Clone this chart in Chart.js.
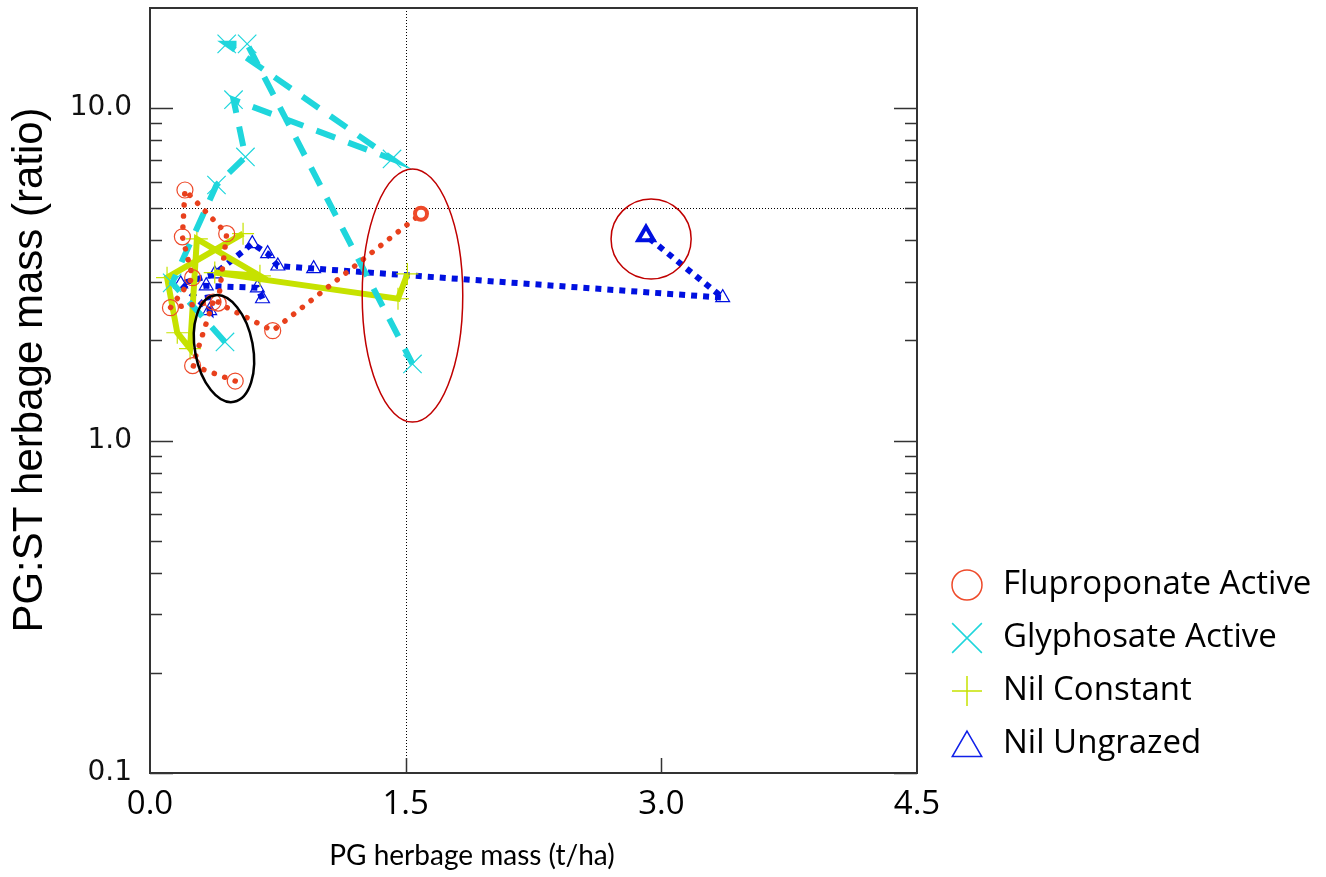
<!DOCTYPE html>
<html>
<head>
<meta charset="utf-8">
<script src="https://cdn.jsdelivr.net/npm/chart.js@4.4.0/dist/chart.umd.min.js"></script>
<style>
html, body { margin: 0; padding: 0; background: #fff; }
</style>
</head>
<body>
<canvas id="myChart" width="1326" height="877"></canvas>
<script>
// series names
var Series = ['Fluproponate Active', 'Glyphosate Active', 'Nil Constant', 'Nil Ungrazed'];

// Fluproponate Active (t/ha , ratio)
var fluX = [0.50, 0.25, 0.37, 0.12, 0.25, 0.19, 0.205, 0.45, 0.40, 0.72, 1.59];
var fluY = [1.51, 1.68, 2.61, 2.51, 3.09, 4.10, 5.67, 4.19, 2.59, 2.14, 4.81];

// Glyphosate Active
var glyX = [0.44, 0.13, 0.39, 0.56, 0.49, 1.42, 0.45, 0.57, 1.54];
var glyY = [1.98, 2.98, 5.87, 7.13, 10.6, 7.03, 15.6, 15.6, 1.70];

// Nil Constant
var ncX = [0.546, 0.10, 0.16, 0.235, 0.275, 0.645, 0.38, 1.455, 1.51];
var ncY = [4.19, 3.09, 2.11, 1.89, 4.04, 3.13, 3.20, 2.67, 3.17];

// Nil Ungrazed
var nuX = [0.66, 0.63, 0.33, 0.35, 0.18, 0.38, 0.60, 0.69, 0.75, 0.96, 3.36, 2.91];
var nuY = [2.67, 2.88, 2.92, 2.46, 2.96, 3.17, 3.91, 3.65, 3.35, 3.29, 2.69, 4.13];

// axis ticks
var xTicks = [0.0, 1.5, 3.0, 4.5];
var yTicks = [0.1, 1, 10];
var yMinor = [0.2, 0.3, 0.4, 0.5, 0.6, 0.7, 0.8, 0.9, 2, 3, 4, 5, 6, 7, 8, 9];

// reference lines (x = 1.5 , y = 5)
var refX = 1.5;
var refY = 5;

// circled groups, in data units: centre x, centre y, half width (x units), top y, tilt
var Marcas = [
    { cx: 1.54, cy: 2.73, hx: 0.295, top: 6.56, rot: 0, color: '#c00000', w: 1.5 },
    { cx: 2.94, cy: 4.04, hx: 0.235, top: 5.33, rot: 0, color: '#c00000', w: 1.5 },
    { cx: 0.434, cy: 1.89, hx: 0.17, top: 2.75, rot: -0.185, color: '#000000', w: 2.5 }
];

var TOPE = 8; // top edge of the plot box

function Puntos(xs, ys)
{
    var out = [];
    for (var i = 0; i < xs.length; i++) out.push({ x: xs[i], y: ys[i] });
    return out;
}

function Lista(n, v, last)
{
    var a = [];
    for (var i = 0; i < n; i++) a.push(v);
    if (last !== undefined) a[n - 1] = last;
    return a;
}

function SinRelleno(s)
{
    s.paddingTop = 0;
    s.paddingBottom = 0;
    s.paddingLeft = 0;
    s.paddingRight = 0;
}

var extras = {
    id: 'extras',
    afterLayout: function(chart)
    {
        // pull the plot box up to the top edge
        var a = chart.chartArea, ys = chart.scales.y;
        var d = a.top - TOPE;
        if (d !== 0)
        {
            a.top -= d;
            a.height += d;
            ys.top -= d;
            ys.height += d;
            ys.configure();
        }
    },
    beforeDatasetsDraw: function(chart)
    {
        var ctx = chart.ctx, a = chart.chartArea;
        var xs = chart.scales.x, ys = chart.scales.y;
        ctx.save();
        ctx.strokeStyle = '#000';
        ctx.lineWidth = 1;
        ctx.setLineDash([1, 2]);
        var px = Math.round(xs.getPixelForValue(refX)) + 0.5;
        ctx.beginPath(); ctx.moveTo(px, a.top); ctx.lineTo(px, a.bottom); ctx.stroke();
        var py = Math.round(ys.getPixelForValue(refY)) + 0.5;
        ctx.beginPath(); ctx.moveTo(a.left, py); ctx.lineTo(a.right, py); ctx.stroke();
        ctx.restore();
    },
    afterDatasetsDraw: function(chart)
    {
        var ctx = chart.ctx;
        var xs = chart.scales.x, ys = chart.scales.y;
        ctx.save();
        Marcas.forEach(function(m)
        {
            var cx = xs.getPixelForValue(m.cx), cy = ys.getPixelForValue(m.cy);
            var rx = xs.getPixelForValue(m.cx + m.hx) - cx;
            var ry = cy - ys.getPixelForValue(m.top);
            ctx.strokeStyle = m.color;
            ctx.lineWidth = m.w;
            ctx.beginPath();
            ctx.ellipse(cx, cy, rx, ry, m.rot, 0, Math.PI * 2);
            ctx.stroke();
        });
        ctx.restore();
    },
    afterDraw: function(chart)
    {
        var ctx = chart.ctx, a = chart.chartArea;
        var xs = chart.scales.x, ys = chart.scales.y;
        ctx.save();
        // frame
        ctx.strokeStyle = '#333';
        ctx.lineWidth = 2;
        ctx.strokeRect(a.left, a.top, a.right - a.left, a.bottom - a.top);
        // inward ticks
        ctx.lineWidth = 1.5;
        ctx.beginPath();
        yTicks.concat(yMinor).forEach(function(v)
        {
            var y = Math.round(ys.getPixelForValue(v)) + 0.5;
            var len = yTicks.indexOf(v) >= 0 ? 23 : 12;
            ctx.moveTo(a.left, y); ctx.lineTo(a.left + len, y);
            ctx.moveTo(a.right, y); ctx.lineTo(a.right - len, y);
        });
        xTicks.slice(1, -1).forEach(function(v)
        {
            var x = Math.round(xs.getPixelForValue(v)) + 0.5;
            ctx.moveTo(x, a.bottom); ctx.lineTo(x, a.bottom - 15);
        });
        ctx.stroke();

        // axis titles
        ctx.fillStyle = '#000';
        ctx.textAlign = 'center';
        ctx.textBaseline = 'middle';
        ctx.font = '28px Lato';
        ctx.fillText('PG herbage mass (t/ha)', 472, 856);
        ctx.save();
        ctx.translate(30, 370);
        ctx.rotate(-Math.PI / 2);
        ctx.font = '42px "Liberation Sans"';
        ctx.fillText('PG:ST herbage mass (ratio)', 0, 0);
        ctx.restore();

        // legend
        var lx = 967, ly = 585, paso = 53;
        var radios = [15, 21, 15, 17];
        chart.data.datasets.forEach(function(ds, i)
        {
            var y = ly + i * paso;
            ctx.strokeStyle = ds.legendColor;
            ctx.fillStyle = 'rgba(0,0,0,0)';
            ctx.lineWidth = 1.5;
            Chart.helpers.drawPoint(ctx, { pointStyle: ds.pointStyle, radius: radios[i], rotation: 0, borderWidth: 1.5 }, lx, ds.pointStyle === 'triangle' ? y + 4 : y);
            ctx.fillStyle = '#000';
            ctx.textAlign = 'left';
            ctx.font = '33px "Open Sans"';
            ctx.fillText(ds.label, 1003, y);
        });
        ctx.restore();
    }
};

function Graficas()
{
    var ctx = document.getElementById('myChart').getContext('2d');
    var chart = new Chart(ctx, {
        type: 'scatter',
        data: {
            datasets: [
                {
                    label: Series[0],
                    data: Puntos(fluX, fluY),
                    showLine: true,
                    borderColor: '#e8401c',
                    legendColor: '#ee4a2a',
                    borderWidth: 5.5,
                    borderDash: [0.1, 11],
                    borderCapStyle: 'round',
                    pointStyle: 'circle',
                    pointRadius: Lista(fluX.length, 8, 6),
                    pointBorderWidth: Lista(fluX.length, 1.2, 4),
                    pointBorderColor: '#ee4a2a',
                    pointBackgroundColor: 'rgba(0,0,0,0)'
                },
                {
                    label: Series[1],
                    data: Puntos(glyX, glyY),
                    showLine: true,
                    borderColor: '#1fd6dc',
                    legendColor: '#1fd6dc',
                    borderWidth: 6,
                    borderDash: [20, 14],
                    pointStyle: 'crossRot',
                    pointRadius: 13,
                    pointBorderWidth: 1.2,
                    pointBorderColor: '#1fd6dc',
                    pointBackgroundColor: 'rgba(0,0,0,0)'
                },
                {
                    label: Series[2],
                    data: Puntos(ncX, ncY),
                    showLine: true,
                    borderColor: '#c6e200',
                    legendColor: '#c6e200',
                    borderWidth: 6,
                    pointStyle: 'cross',
                    pointRadius: 11,
                    pointBorderWidth: 1.2,
                    pointBorderColor: '#c6e200',
                    pointBackgroundColor: 'rgba(0,0,0,0)'
                },
                {
                    label: Series[3],
                    data: Puntos(nuX, nuY),
                    showLine: true,
                    borderColor: '#0010e0',
                    legendColor: '#1020e8',
                    borderWidth: 6,
                    borderDash: [6, 6],
                    pointStyle: 'triangle',
                    pointRadius: Lista(nuX.length, 8, 9),
                    pointBorderWidth: Lista(nuX.length, 1.2, 4),
                    pointBorderColor: '#0010e0',
                    pointBackgroundColor: 'rgba(0,0,0,0)'
                }
            ]
        },
        options: {
            responsive: false,
            animation: false,
            devicePixelRatio: 1,
            layout: { padding: { top: 8, right: 409, left: 0, bottom: 0 } },
            plugins: {
                legend: { display: false },
                tooltip: { enabled: false }
            },
            scales: {
                x: {
                    type: 'linear',
                    min: 0,
                    max: 4.5,
                    afterBuildTicks: function(s) { s.ticks = xTicks.map(function(v) { return { value: v }; }); },
                    afterFit: function(s) { s.height = 104; SinRelleno(s); },
                    ticks: {
                        callback: function(v) { return Number(v).toFixed(1); },
                        font: { family: 'Open Sans', size: 33 },
                        color: '#000',
                        padding: 12,
                        maxRotation: 0,
                        autoSkip: false
                    },
                    grid: { display: false, drawTicks: false },
                    border: { display: false }
                },
                y: {
                    type: 'logarithmic',
                    min: 0.1,
                    max: 20,
                    afterBuildTicks: function(s) { s.ticks = yTicks.map(function(v) { return { value: v }; }); },
                    afterFit: function(s) { s.width = 150; SinRelleno(s); },
                    ticks: {
                        callback: function(v) { return Number(v).toFixed(1); },
                        font: { family: 'DejaVu Sans', size: 28 },
                        color: '#111',
                        padding: 18,
                        autoSkip: false
                    },
                    grid: { display: false, drawTicks: false },
                    border: { display: false }
                }
            }
        },
        plugins: [extras]
    });
}

Graficas();
</script>
</body>
</html>
